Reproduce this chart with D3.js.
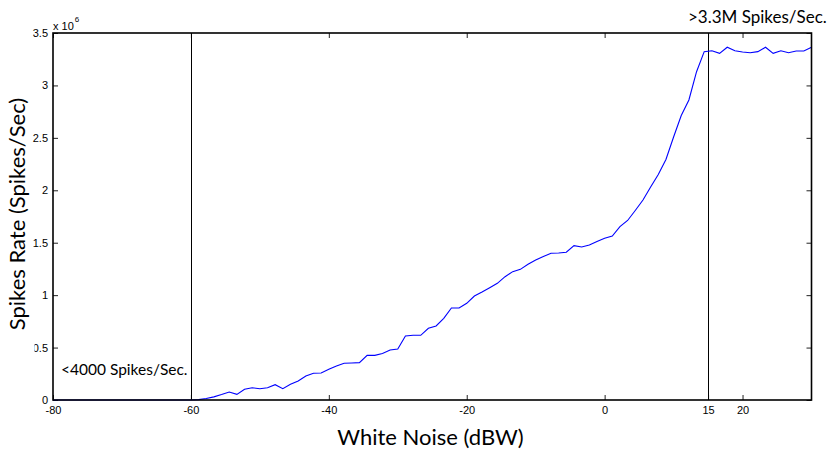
<!DOCTYPE html>
<html>
<head>
<meta charset="utf-8">
<script src="https://cdn.jsdelivr.net/npm/d3@7"></script>
<style>
  html, body { margin: 0; padding: 0; background: #fff; }
  svg { display: block; }
  .tick-label { font-family: "Liberation Sans", Arial, sans-serif; font-size: 11px; fill: #000; }
  .note { font-family: Lato, "Open Sans", sans-serif; fill: #000; }
</style>
</head>
<body>
<svg id="chart" width="829" height="450"></svg>
<script>
// Noise level sweep (dBW)
const noiseLevels = [
  -80.00, -78.89, -77.78, -76.67, -75.56, -74.44, -73.33, -72.22, -71.11, -70.00,
  -68.89, -67.78, -66.67, -65.56, -64.44, -63.33, -62.22, -61.11, -60.00, -58.89,
  -57.78, -56.67, -55.56, -54.44, -53.33, -52.22, -51.11, -50.00, -48.89, -47.78,
  -46.67, -45.56, -44.44, -43.33, -42.22, -41.11, -40.00, -38.89, -37.78, -36.67,
  -35.56, -34.44, -33.33, -32.22, -31.11, -30.00, -28.89, -27.78, -26.67, -25.56,
  -24.44, -23.33, -22.22, -21.11, -20.00, -18.89, -17.78, -16.67, -15.56, -14.44,
  -13.33, -12.22, -11.11, -10.00, -8.89, -7.78, -6.67, -5.56, -4.44, -3.33,
  -2.22, -1.11, 0.00, 1.11, 2.22, 3.33, 4.44, 5.56, 6.67, 7.78,
  8.89, 10.00, 11.11, 12.22, 13.33, 14.44, 15.56, 16.67, 17.78, 18.89,
  20.00, 21.11, 22.22, 23.33, 24.44, 25.56, 26.67, 27.78, 28.89, 30.00
];

// Measured spike rate (x 10^6 spikes/sec)
const spikeRates = [
  0.000, 0.000, 0.000, 0.000, 0.000, 0.000, 0.000, 0.000, 0.000, 0.000,
  0.000, 0.000, 0.000, 0.000, 0.000, 0.000, 0.000, 0.000, 0.000, 0.004,
  0.014, 0.030, 0.052, 0.076, 0.054, 0.102, 0.117, 0.108, 0.117, 0.146,
  0.108, 0.150, 0.181, 0.229, 0.255, 0.257, 0.293, 0.324, 0.350, 0.353,
  0.356, 0.426, 0.426, 0.443, 0.477, 0.486, 0.610, 0.617, 0.617, 0.684,
  0.706, 0.779, 0.877, 0.877, 0.922, 0.992, 1.030, 1.071, 1.113, 1.176,
  1.224, 1.246, 1.294, 1.335, 1.368, 1.399, 1.402, 1.409, 1.472, 1.459,
  1.478, 1.512, 1.542, 1.564, 1.653, 1.712, 1.807, 1.907, 2.031, 2.150,
  2.294, 2.508, 2.713, 2.861, 3.131, 3.322, 3.331, 3.306, 3.364, 3.331,
  3.319, 3.312, 3.322, 3.364, 3.306, 3.331, 3.312, 3.328, 3.328, 3.364
];

const xTickValues = [-80, -60, -40, -20, 0, 15, 20];
const yTickValues = [0, 0.5, 1, 1.5, 2, 2.5, 3, 3.5];
const yTickLabels = ["0", "0.5", "1", "1.5", "2", "2.5", "3", "3.5"];
const markerLevels = [-60, 15];
const lowNote = "<4000 Spikes/Sec.";
const highNote = ">3.3M Spikes/Sec.";
const xTitle = "White Noise (dBW)";
const yTitle = "Spikes Rate (Spikes/Sec)";

const svg = d3.select("#chart");
const plotLeft = 53, plotRight = 811.5, plotTop = 33, plotBottom = 400;

const x = d3.scaleLinear().domain([-80, 30]).range([plotLeft, plotRight]);
const y = d3.scaleLinear().domain([0, 3.5]).range([plotBottom, plotTop]);

const tickLen = 5;

// Bottom axis with inward ticks
const xAxisBottom = d3.axisBottom(x).tickValues(xTickValues)
  .tickSizeInner(-tickLen).tickSizeOuter(0).tickPadding(6).tickFormat(d => String(d));
const gxb = svg.append("g").attr("transform", `translate(0,${plotBottom})`).call(xAxisBottom);
gxb.select(".domain").remove();
gxb.selectAll("text").attr("class", "tick-label").attr("font-size", null).attr("font-family", null);

// Top axis ticks (no labels)
const xAxisTop = d3.axisTop(x).tickValues(xTickValues)
  .tickSizeInner(-tickLen).tickSizeOuter(0).tickFormat("");
const gxt = svg.append("g").attr("transform", `translate(0,${plotTop})`).call(xAxisTop);
gxt.select(".domain").remove();

// Left axis with inward ticks
const yAxisLeft = d3.axisLeft(y).tickValues(yTickValues)
  .tickSizeInner(-tickLen).tickSizeOuter(0).tickPadding(5)
  .tickFormat((d, i) => yTickLabels[i]);
const gyl = svg.append("g").attr("transform", `translate(${plotLeft},0)`).call(yAxisLeft);
gyl.select(".domain").remove();
gyl.selectAll("text").attr("class", "tick-label").attr("font-size", null).attr("font-family", null);

// Right axis ticks (no labels)
const yAxisRight = d3.axisRight(y).tickValues(yTickValues)
  .tickSizeInner(-tickLen).tickSizeOuter(0).tickFormat("");
const gyr = svg.append("g").attr("transform", `translate(${plotRight},0)`).call(yAxisRight);
gyr.select(".domain").remove();

svg.selectAll(".tick line").attr("stroke", "#222").attr("stroke-width", 1);

// Threshold markers
svg.selectAll("line.marker").data(markerLevels).enter().append("line")
  .attr("class", "marker")
  .attr("x1", d => Math.round(x(d)) + 0.5).attr("x2", d => Math.round(x(d)) + 0.5)
  .attr("y1", y(0)).attr("y2", y(3.5))
  .attr("stroke", "#000").attr("stroke-width", 1);

// Spike-rate curve
const pts = noiseLevels.map((v, i) => [v, spikeRates[i]]);
const line = d3.line().x(d => x(d[0])).y(d => y(d[1]));
svg.append("path").datum(pts)
  .attr("d", line)
  .attr("fill", "none").attr("stroke", "#0000ff").attr("stroke-width", 1.1);

// Plot frame
svg.append("rect")
  .attr("x", plotLeft).attr("y", plotTop)
  .attr("width", plotRight - plotLeft).attr("height", plotBottom - plotTop)
  .attr("fill", "none").attr("stroke", "#000").attr("stroke-width", 1.6);

// Exponent label
const expo = svg.append("text").attr("class", "tick-label")
  .attr("x", plotLeft).attr("y", 30).style("font-size", "11px");
expo.append("tspan").text("x 10");
expo.append("tspan").attr("dx", 1).attr("dy", -8).style("font-size", "8px").text("6");

// Annotations
svg.append("text").attr("class", "note")
  .attr("x", 61).attr("y", 375).attr("font-size", 15.5)
  .text(lowNote);
svg.append("text").attr("class", "note")
  .attr("x", 688).attr("y", 23).attr("font-size", 17)
  .text(highNote);

// Axis titles (the y title sits on a white text box)
svg.append("rect")
  .attr("x", 0).attr("y", 336).attr("width", 34.5).attr("height", 18)
  .attr("fill", "#fff");
svg.append("text").attr("class", "note")
  .attr("x", 430.5).attr("y", 445)
  .attr("text-anchor", "middle").attr("font-size", 22)
  .text(xTitle);
svg.append("text").attr("class", "note")
  .attr("transform", `translate(25,214) rotate(-90)`)
  .attr("text-anchor", "middle").attr("font-size", 22)
  .text(yTitle);
</script>
</body>
</html>
